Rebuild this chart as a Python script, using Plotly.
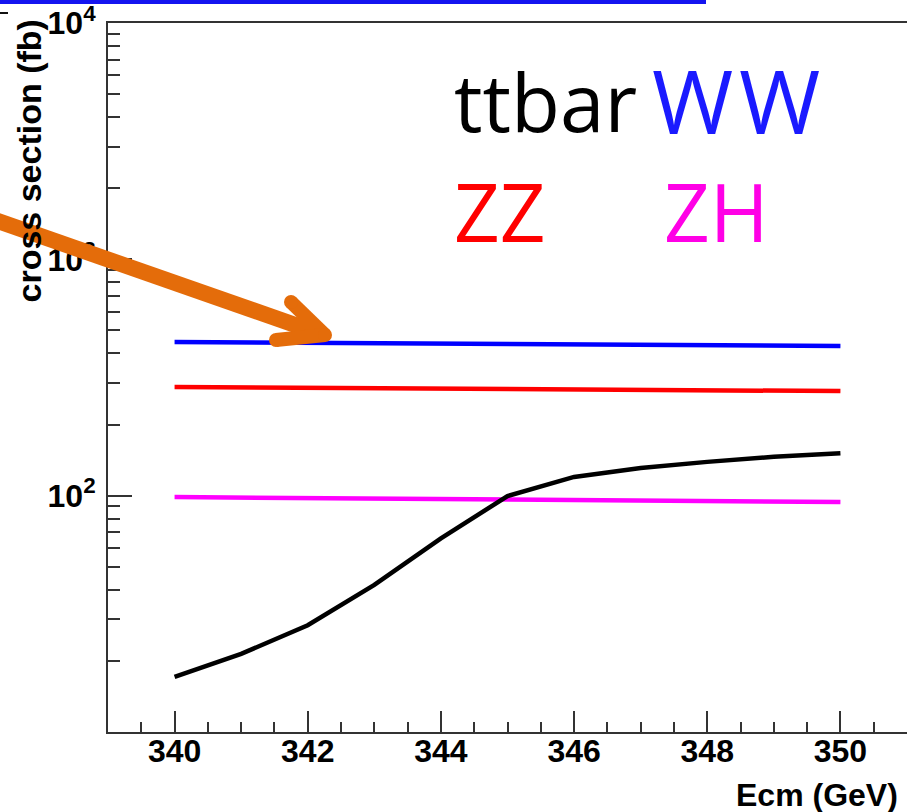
import plotly.graph_objects as go

ecm = [340, 341, 342, 343, 344, 345, 346, 347, 348, 349, 350]
xs_ww = [447, 445, 443, 442, 440, 438, 437, 435, 433, 432, 430]
xs_zz = [288, 287, 286, 285, 283, 282, 281, 280, 279, 278, 277]
xs_zh = [98.6, 98.1, 97.6, 97.2, 96.8, 96.3, 95.9, 95.4, 95.0, 94.5, 94.0]
xs_tt = [17.1, 21.4, 28.3, 41.9, 66, 99.6, 120, 131, 139, 146, 151]

x_ticks = [340, 342, 344, 346, 348, 350]
x_ticklabels = ["340", "342", "344", "346", "348", "350"]
y_ticks = [100, 1000, 10000]
y_ticklabels = ["10<sup>2</sup>", "10<sup>3</sup>", "10<sup>4</sup>"]
y_minor = [m * d for d in (10, 100, 1000) for m in range(2, 10)]

W, H = 907, 812
L, R, T, B = 108, 0, 23, 80
PW, PH = W - L - R, H - T - B


def px(x):
    return (x - L) / PW


def py(y):
    return (H - B - y) / PH


fig = go.Figure()
for vals, col in [(xs_ww, "#0000ff"), (xs_zz, "#ff0000"), (xs_zh, "#ff00ff"), (xs_tt, "#000000")]:
    fig.add_trace(go.Scatter(x=ecm, y=vals, mode="lines",
                             line=dict(color=col, width=4.5), showlegend=False))

tickfont = dict(family="Liberation Sans, Arial, sans-serif", size=32, color="black", weight="bold")

fig.update_layout(
    width=W, height=H,
    margin=dict(l=L, r=R, t=T, b=B, pad=0),
    paper_bgcolor="white", plot_bgcolor="white",
    xaxis=dict(range=[339, 351], tickvals=x_ticks, ticktext=x_ticklabels,
               ticks="inside", ticklen=21, tickwidth=2, tickcolor="#333",
               minor=dict(dtick=0.5, tick0=339, ticks="inside", ticklen=10, tickwidth=2, tickcolor="#333"),
               showline=True, linecolor="#333", linewidth=2, mirror=True,
               showgrid=False, zeroline=False, tickfont=tickfont, ticklabelstandoff=-10),
    yaxis=dict(type="log", range=[1, 4], tickvals=y_ticks, ticktext=y_ticklabels,
               ticks="inside", ticklen=24, tickwidth=2, tickcolor="#333",
               minor=dict(tickvals=y_minor, ticks="inside", ticklen=12, tickwidth=2, tickcolor="#333"),
               showline=True, linecolor="#333", linewidth=2, mirror=False,
               showgrid=False, zeroline=False, tickfont=tickfont, ticklabelstandoff=4),
)

labfont = "Open Sans, Lato, sans-serif"
annots = [
    ("ttbar", 452, 100, "#000000", 80),
    ("W<span style='font-size:22px'> </span>W", 650, 100, "#1a1aff", 88),
    ("ZZ", 452, 210, "#ff0000", 80),
    ("ZH", 662, 210, "#ff00e6", 80),
]
for txt, x0, y0, col, sz in annots:
    fig.add_annotation(text=txt, xref="paper", yref="paper", x=px(x0), y=py(y0),
                       xanchor="left", yanchor="middle", showarrow=False,
                       font=dict(family=labfont, size=sz, color=col))

fig.add_annotation(text="cross section (fb)", xref="paper", yref="paper",
                   x=px(28), y=py(18), xanchor="center", yanchor="top", textangle=-90,
                   showarrow=False, font=dict(family="Liberation Sans, Arial", size=34, color="black", weight="bold"))
fig.add_annotation(text="Ecm (GeV)", xref="paper", yref="paper",
                   x=px(900), y=py(795), xanchor="right", yanchor="middle",
                   showarrow=False, font=dict(family="Liberation Sans, Arial", size=32, color="black", weight="bold"))

# slide decorations: blue bar at top and orange arrow
fig.add_shape(type="rect", xref="paper", yref="paper", x0=px(0), x1=px(706), y0=py(0), y1=py(4),
              fillcolor="#1414f0", line=dict(width=0), layer="above")
fig.add_shape(type="line", xref="paper", yref="paper", x0=px(0), x1=px(8), y0=py(13), y1=py(13),
              line=dict(color="#111", width=2))
orange = "#e46c0a"
AW = 14
tip = (325, 335)
arms = [(291, 302), (276, 340)]
fig.add_shape(type="line", xref="paper", yref="paper", x0=px(-5), y0=py(220), x1=px(tip[0] - 4), y1=py(tip[1] - 1),
              line=dict(color=orange, width=16), layer="above")
for ax, ay in arms:
    fig.add_shape(type="line", xref="paper", yref="paper", x0=px(ax), y0=py(ay), x1=px(tip[0]), y1=py(tip[1]),
                  line=dict(color=orange, width=AW), layer="above")
for cx, cy in arms + [tip]:
    r = AW / 2
    fig.add_shape(type="circle", xref="paper", yref="paper", x0=px(cx - r), x1=px(cx + r),
                  y0=py(cy - r), y1=py(cy + r), fillcolor=orange, line=dict(width=0), layer="above")

fig.write_html("out.html", config={"displayModeBar": False},
               post_script="document.body.style.margin='0';document.body.style.overflow='hidden';")
